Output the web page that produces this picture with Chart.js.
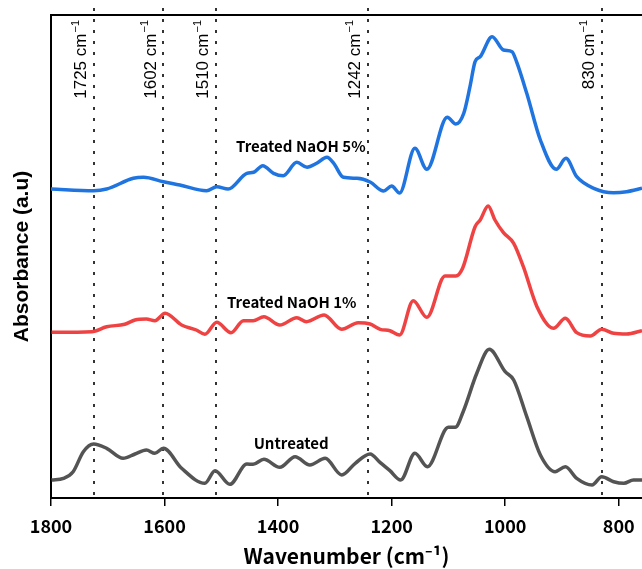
<!DOCTYPE html>
<html>
<head>
<meta charset="utf-8">
<script src="https://cdn.jsdelivr.net/npm/chart.js@4.4.1/dist/chart.umd.min.js"></script>
<style>
    html, body { margin: 0; padding: 0; background: #fff; overflow: hidden; }
    canvas { display: block; }
</style>
</head>
<body>
<canvas id="ftirChart" width="642" height="569"></canvas>
<script>
// Untreated spectrum
var untreatedWave = [1799, 1778, 1761, 1743, 1725, 1702, 1673, 1652, 1632, 1617, 1602, 1570, 1529, 1511, 1485, 1455, 1444, 1425, 1397, 1370, 1344, 1317, 1288, 1264, 1238, 1220, 1203, 1184, 1159, 1137, 1100, 1088, 1074, 1050, 1028, 1000, 985, 962, 938, 912, 894, 874, 847, 830, 809, 791, 774, 759];
var untreatedAbs = [0.18, 0.197, 0.263, 0.463, 0.54, 0.497, 0.397, 0.44, 0.48, 0.447, 0.497, 0.297, 0.147, 0.273, 0.137, 0.34, 0.337, 0.387, 0.307, 0.413, 0.33, 0.397, 0.23, 0.347, 0.44, 0.353, 0.273, 0.18, 0.447, 0.313, 0.707, 0.707, 0.863, 1.247, 1.487, 1.263, 1.18, 0.813, 0.43, 0.263, 0.313, 0.197, 0.13, 0.213, 0.163, 0.147, 0.18, 0.18];

// Treated NaOH 1%
var naoh1Wave = [1799, 1728, 1702, 1670, 1652, 1632, 1617, 1599, 1570, 1544, 1529, 1508, 1483, 1461, 1444, 1425, 1397, 1367, 1350, 1319, 1288, 1259, 1238, 1220, 1203, 1186, 1162, 1138, 1106, 1087, 1075, 1053, 1044, 1030, 1018, 1003, 985, 968, 944, 915, 894, 874, 850, 830, 809, 786, 759];
var naoh1Abs = [1.657, 1.663, 1.713, 1.737, 1.78, 1.79, 1.773, 1.847, 1.73, 1.68, 1.637, 1.757, 1.653, 1.773, 1.773, 1.813, 1.73, 1.803, 1.763, 1.83, 1.687, 1.753, 1.74, 1.687, 1.673, 1.63, 1.973, 1.807, 2.22, 2.22, 2.297, 2.713, 2.78, 2.92, 2.78, 2.653, 2.547, 2.313, 1.913, 1.697, 1.797, 1.653, 1.62, 1.687, 1.647, 1.64, 1.673];

// Treated NaOH 5%
var naoh5Wave = [1800, 1725, 1702, 1655, 1637, 1602, 1573, 1526, 1508, 1488, 1455, 1443, 1427, 1408, 1391, 1367, 1349, 1332, 1314, 1302, 1285, 1261, 1238, 1214, 1200, 1186, 1159, 1138, 1102, 1087, 1073, 1062, 1053, 1044, 1023, 1003, 988, 980, 962, 938, 910, 893, 874, 844, 809, 786, 759];
var naoh5Abs = [3.09, 3.073, 3.09, 3.197, 3.207, 3.163, 3.13, 3.073, 3.113, 3.09, 3.247, 3.257, 3.323, 3.247, 3.223, 3.357, 3.307, 3.347, 3.407, 3.347, 3.207, 3.197, 3.16, 3.07, 3.12, 3.05, 3.497, 3.287, 3.807, 3.74, 3.847, 4.113, 4.363, 4.413, 4.613, 4.48, 4.463, 4.363, 4.047, 3.58, 3.287, 3.397, 3.213, 3.097, 3.053, 3.063, 3.097];

// Band markers and axis ticks
var markerWaves = [1725, 1602, 1510, 1242, 830];
var xTicks = [1800, 1600, 1400, 1200, 1000, 800];

var seriesNames = ['Untreated', 'Treated NaOH 1%', 'Treated NaOH 5%'];

var cjkFont = '"Noto Sans CJK JP", "Noto Sans", sans-serif';

function toPoints(waves, values) {
    return waves.map(function(w, i) {
        return { x: w, y: values[i] };
    });
}

// where the series names sit, in data units
var nameSpots = [
    { x: 1377, y: 0.55 },
    { x: 1376, y: 1.953 },
    { x: 1360, y: 3.513 }
];

var markerPlugin = {
    id: 'markers',
    beforeDatasetsDraw: function(chart) {
        var ctx = chart.ctx;
        var area = chart.chartArea;
        var x = chart.scales.x;
        ctx.save();
        ctx.strokeStyle = '#333';
        ctx.lineWidth = 2;
        ctx.setLineDash([3, 8]);
        markerWaves.forEach(function(w) {
            var px = Math.round(x.getPixelForValue(w));
            ctx.beginPath();
            ctx.moveTo(px, area.top - 7);
            ctx.lineTo(px, area.bottom);
            ctx.stroke();
        });
        ctx.restore();
    },
    afterDatasetsDraw: function(chart) {
        var ctx = chart.ctx;
        var area = chart.chartArea;
        var x = chart.scales.x;
        var y = chart.scales.y;

        // rotated band labels
        markerWaves.forEach(function(w) {
            var px = x.getPixelForValue(w);
            ctx.save();
            ctx.translate(px - 12, area.top + 5);
            ctx.rotate(-Math.PI / 2);
            ctx.fillStyle = '#000';
            ctx.textAlign = 'right';
            ctx.textBaseline = 'middle';
            ctx.font = '11px "Liberation Sans", Arial, sans-serif';
            var supW = ctx.measureText('\u22121').width;
            ctx.fillText('\u22121', 0, -6);
            ctx.font = '17px "Liberation Sans", Arial, sans-serif';
            ctx.fillText(w + ' cm', -supW - 1, 0);
            ctx.restore();
        });

        // series names
        ctx.save();
        ctx.fillStyle = '#000';
        ctx.textAlign = 'center';
        ctx.textBaseline = 'middle';
        ctx.font = 'bold 15px ' + cjkFont;
        nameSpots.forEach(function(s, i) {
            ctx.fillText(seriesNames[i], x.getPixelForValue(s.x), y.getPixelForValue(s.y));
        });
        ctx.restore();

        // top frame line
        ctx.save();
        ctx.strokeStyle = '#000';
        ctx.lineWidth = 2;
        ctx.beginPath();
        ctx.moveTo(area.left, area.top);
        ctx.lineTo(area.right + 2, area.top);
        ctx.stroke();
        ctx.restore();
    }
};

var ctxSpectrum = document.getElementById('ftirChart').getContext('2d');
var spectrumChart = new Chart(ctxSpectrum, {
    type: 'line',
    data: {
        datasets: [{
            label: seriesNames[0],
            data: toPoints(untreatedWave, untreatedAbs),
            borderColor: '#545454',
            borderWidth: 3.5
        }, {
            label: seriesNames[1],
            data: toPoints(naoh1Wave, naoh1Abs),
            borderColor: '#ef4343',
            borderWidth: 3.5
        }, {
            label: seriesNames[2],
            data: toPoints(naoh5Wave, naoh5Abs),
            borderColor: '#1f74e0',
            borderWidth: 3.5
        }]
    },
    options: {
        responsive: false,
        animation: false,
        devicePixelRatio: 1,
        layout: { padding: { left: 0, right: 0, top: 15, bottom: 0 } },
        elements: {
            point: { radius: 0 },
            line: { cubicInterpolationMode: 'monotone', fill: false }
        },
        plugins: {
            legend: { display: false },
            tooltip: { enabled: false }
        },
        scales: {
            x: {
                type: 'linear',
                reverse: true,
                min: 759,
                max: 1800,
                afterBuildTicks: function(scale) {
                    scale.ticks = xTicks.map(function(v) { return { value: v }; });
                },
                afterFit: function(scale) {
                    scale.height = 71;
                    scale.paddingLeft = 0;
                    scale.paddingRight = 0;
                },
                ticks: {
                    color: '#000',
                    padding: 9,
                    maxRotation: 0,
                    font: { family: cjkFont, size: 18, weight: 'bold' },
                    callback: function(value) { return String(value); }
                },
                grid: {
                    drawOnChartArea: false,
                    tickLength: 8,
                    color: '#000',
                    lineWidth: 1.5
                },
                border: { color: '#000', width: 2 },
                title: {
                    display: true,
                    text: 'Wavenumber (cm\u207B\u00B9)',
                    color: '#000',
                    padding: { top: 0, bottom: 0 },
                    font: { family: cjkFont, size: 21, weight: 'bold' }
                }
            },
            y: {
                min: 0,
                max: 4.83,
                afterFit: function(scale) { scale.width = 51; },
                ticks: { display: false },
                grid: { display: false },
                border: { display: true, color: '#000', width: 2 },
                title: {
                    display: true,
                    text: 'Absorbance (a.u)',
                    color: '#000',
                    padding: { top: 10, bottom: 0 },
                    font: { family: '"Liberation Sans", Arial, sans-serif', size: 21, weight: 'bold' }
                }
            }
        }
    },
    plugins: [markerPlugin]
});
</script>
</body>
</html>
